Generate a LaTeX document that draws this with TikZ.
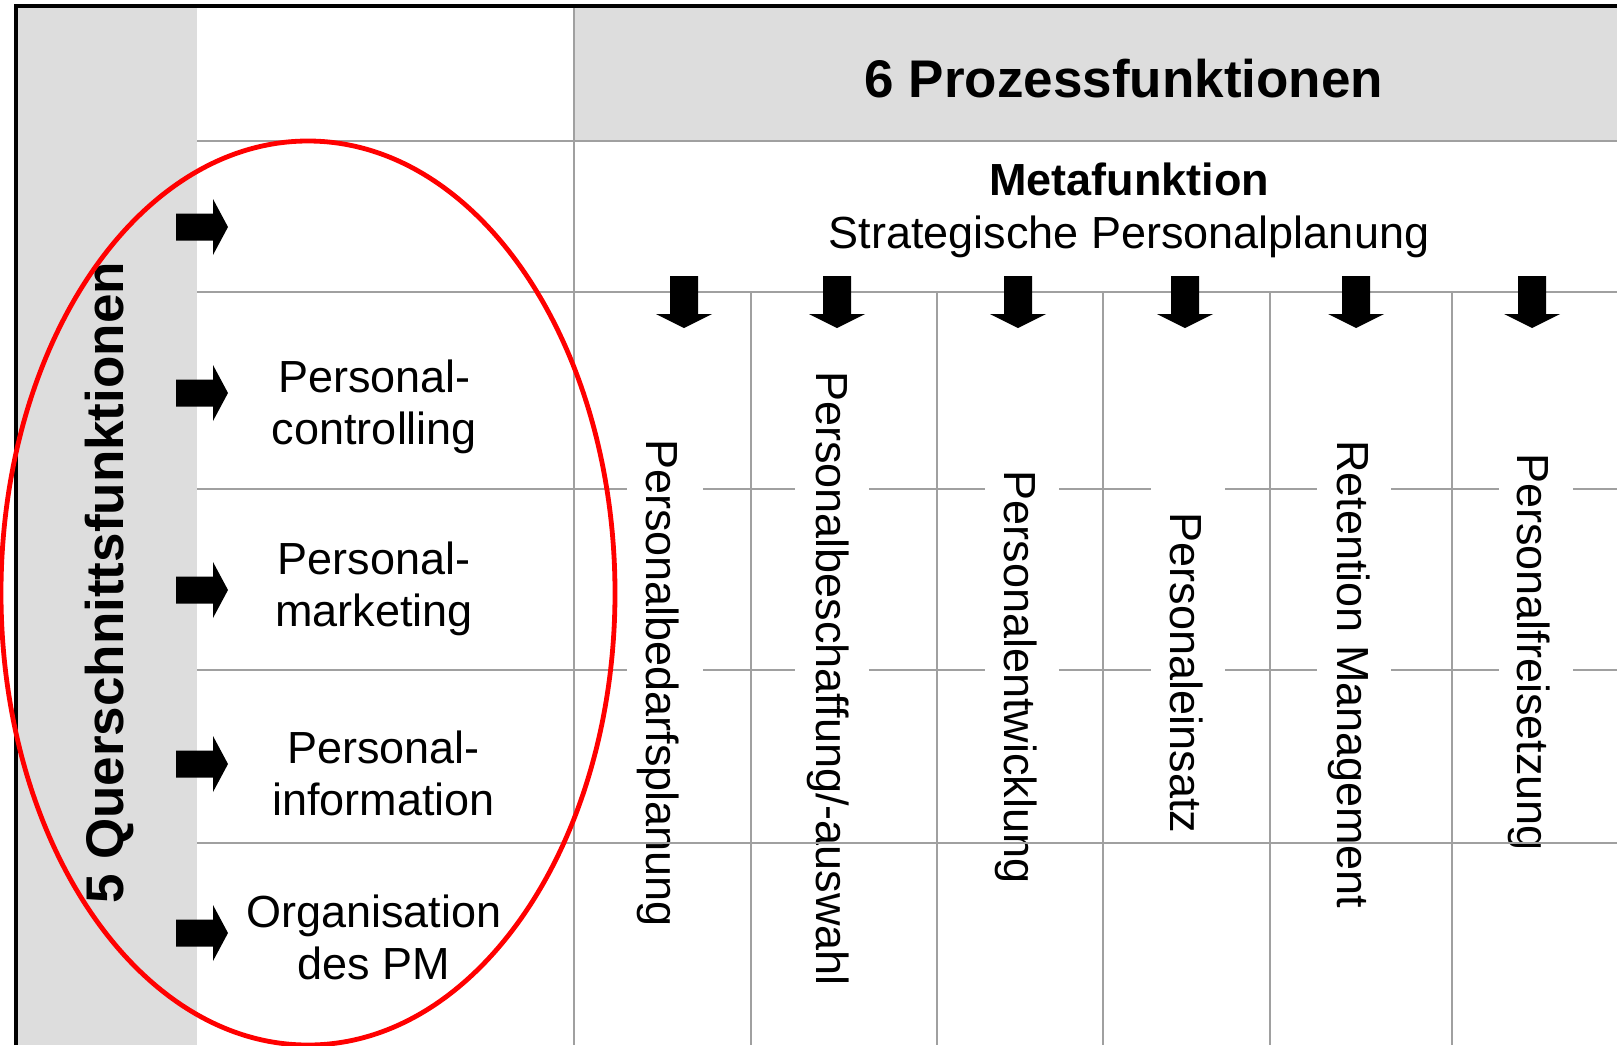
\documentclass[tikz,border=0pt]{standalone}
\usepackage{fontspec}
\setmainfont{Liberation Sans}
\definecolor{hdrgray}{RGB}{221,221,221}
\definecolor{linegray}{RGB}{160,160,160}
\tikzset{
  gridline/.style={draw=linegray, line width=1pt},
  lbl/.style={align=center, anchor=base, inner sep=0pt, font=\fontsize{22.5}{26}\selectfont},
  vlbl/.style={rotate=-90, anchor=base, inner sep=0pt, font=\fontsize{22.5}{26}\selectfont},
  boldbig/.style={anchor=base, inner sep=0pt, font=\fontsize{26.5}{30}\selectfont\bfseries},
  rarrow/.pic={\fill[black] (-26,-13.5) -- (11,-13.5) -- (11,-28) -- (26,0) -- (11,28) -- (11,13.5) -- (-26,13.5) -- cycle;},
  darrow/.pic={\fill[black] (-14,-26) -- (14,-26) -- (14,12) -- (28,12) -- (0,26) -- (-28,12) -- (-14,12) -- cycle;}
}
\begin{document}
\begin{tikzpicture}[x=0.5pt,y=-0.5pt]
\useasboundingbox (0,0) rectangle (1617,1045);
\fill[white] (0,0) rectangle (1617,1045);
% gray areas
\fill[hdrgray] (16,6) rectangle (197,1045);
\fill[hdrgray] (574,6) rectangle (1617,141);
% grid lines
\draw[gridline] (197,141) -- (1617,141);
\draw[gridline] (197,292) -- (1617,292);
\foreach \y in {489,670} {
  \draw[gridline] (197,\y) -- (627,\y) (703,\y) -- (795,\y) (869,\y) -- (985,\y)
    (1059,\y) -- (1151,\y) (1225,\y) -- (1317,\y) (1391,\y) -- (1499,\y) (1573,\y) -- (1617,\y);
}
\draw[gridline] (574,6) -- (574,1045);
\foreach \x in {751,937,1103,1270,1452} \draw[gridline] (\x,292) -- (\x,1045);
% outer border
\draw[line width=2pt] (15.5,1045) -- (15.5,5.5) -- (1617,5.5);
% header texts
\node[boldbig] (title) at (1124,97) {6 Prozessfunktionen};
\node[anchor=base, inner sep=0pt, font=\fontsize{22.5}{26}\selectfont\bfseries] (meta) at (1129,195) {Metafunktion};
\node[lbl] (strat) at (1129,248) {Strategische Personalplanung};
\node[boldbig, rotate=90] (quer) at (123,583) {5 Querschnittsfunktionen};
% left labels (base anchor = last line's baseline)
\node[lbl] (ctrl) at (374.5,444) {Personal-\\controlling};
\node[lbl] (mkt) at (374,626) {Personal-\\marketing};
\node[lbl] (info) at (383.5,815) {Personal-\\information};
\node[lbl] (org) at (374,979) {Organisation\\des PM};
% vertical labels
\node[vlbl] (p1) at (646,683) {Personalbedarfsplanung};
\node[vlbl] (p2) at (816,678.5) {Personalbeschaffung/-auswahl};
\node[vlbl] (p3) at (1004,677) {Personalentwicklung};
\node[vlbl] (p4) at (1170,673) {Personaleinsatz};
\node[vlbl] (p5) at (1337,674) {Retention Management};
\node[vlbl] (p6) at (1517,652) {Personalfreisetzung};
% line over texts
\draw[gridline] (197,843) -- (1617,843);
% arrows
\foreach \y in {227,393,590,764,933} \pic at (202,\y) {rarrow};
\foreach \x in {684,837,1018,1185,1356,1532} \pic at (\x,302) {darrow};
% red ellipse
\draw[red, line width=2.4pt] (308,593) ellipse [x radius=153.5pt, y radius=226pt];
\end{tikzpicture}
\end{document}
